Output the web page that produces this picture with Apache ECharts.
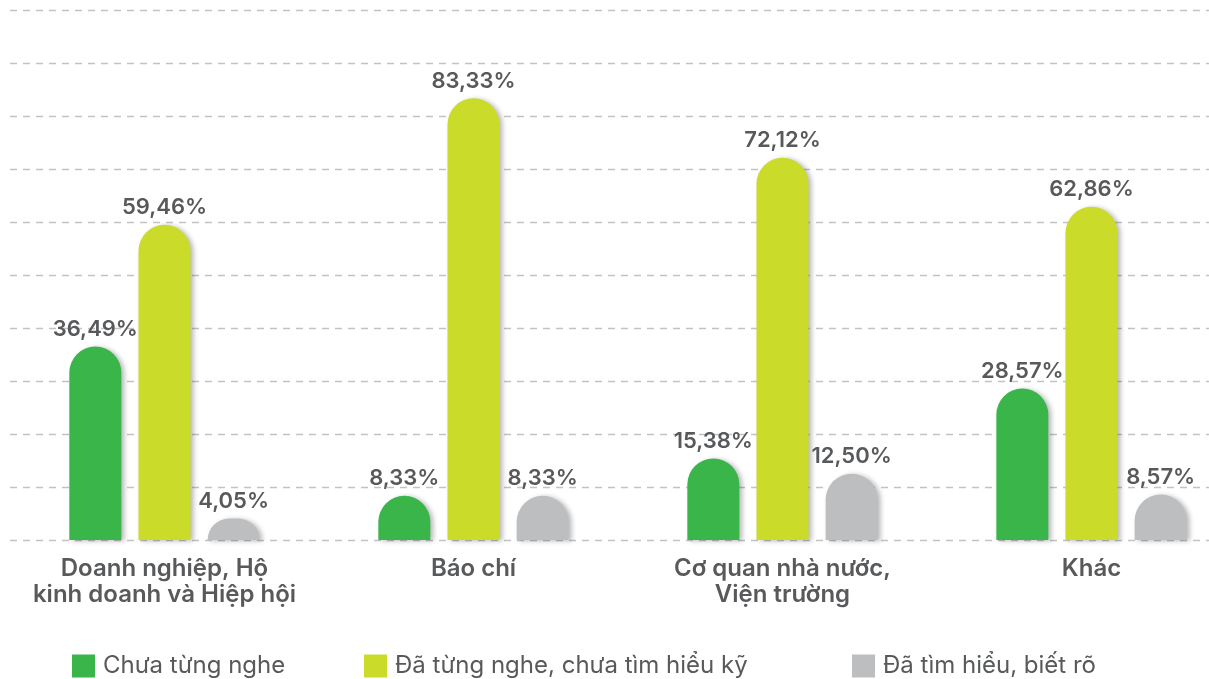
<!DOCTYPE html>
<html>
<head>
<meta charset="utf-8">
<script src="https://cdn.jsdelivr.net/npm/echarts@6/dist/echarts.min.js"></script>
<style>
  html, body { margin: 0; padding: 0; background: #fff; }
  #chart { width: 1209px; height: 679px; }
</style>
</head>
<body>
<div id="chart"></div>
<script>
const categories = [
  'Doanh nghiệp, Hộ\nkinh doanh và Hiệp hội',
  'Báo chí',
  'Cơ quan nhà nước,\nViện trường',
  'Khác'
]
const seriesNames = ['Chưa từng nghe', 'Đã từng nghe, chưa tìm hiểu kỹ', 'Đã tìm hiểu, biết rõ']
const chuaTungNghe = [36.49, 8.33, 15.38, 28.57]
const daTungNghe = [59.46, 83.33, 72.12, 62.86]
const daTimHieu = [4.05, 8.33, 12.50, 8.57]

const colors = ['#39b54a', '#cbdb2a', '#bcbec0']
const textColor = '#58595b'
const font = 'Inter, Roboto, "Noto Sans", sans-serif'

const chart = echarts.init(document.getElementById('chart'))

const makeSeries = (name, data, color) => ({
  name,
  type: 'bar',
  data,
  barWidth: 52,
  barGap: '33%',
  animation: false,
  itemStyle: {
    color,
    borderRadius: [26, 26, 0, 0],
    shadowColor: 'rgba(0,0,0,0.28)',
    shadowBlur: 5,
    shadowOffsetX: 3,
    shadowOffsetY: 1
  },
  label: {
    show: true,
    position: 'top',
    distance: 6,
    color: textColor,
    fontFamily: font,
    fontWeight: 600,
    fontSize: 22,
    formatter: p => p.value.toFixed(2).replace('.', ',') + '%'
  }
})

// one legend per item so each can sit where the reference puts it
const legendAt = (name, left) => ({
  data: [name],
  left,
  top: 654,
  padding: 0,
  itemWidth: 23,
  itemHeight: 23,
  icon: 'rect',
  textStyle: { color: textColor, fontFamily: font, fontSize: 24, padding: [0, 0, 0, 3] }
})

chart.setOption({
  backgroundColor: '#fff',
  legend: [
    legendAt(seriesNames[0], 72),
    legendAt(seriesNames[1], 364),
    legendAt(seriesNames[2], 852)
  ],
  grid: {
    left: 10,
    top: 10,
    width: 1236,
    height: 530,
    outerBoundsMode: 'none',
    containLabel: false
  },
  xAxis: {
    type: 'category',
    data: categories,
    axisLine: { show: false },
    axisTick: { show: false },
    axisLabel: {
      interval: 0,
      margin: 16,
      color: textColor,
      fontFamily: font,
      fontWeight: 600,
      fontSize: 24,
      lineHeight: 26
    }
  },
  yAxis: {
    type: 'value',
    min: 0,
    max: 100,
    interval: 10,
    axisLabel: { show: false },
    axisLine: { show: false },
    axisTick: { show: false },
    splitLine: {
      lineStyle: { color: '#c2c3c5', width: 1.3, type: [7, 6] }
    }
  },
  series: [
    makeSeries(seriesNames[0], chuaTungNghe, colors[0]),
    makeSeries(seriesNames[1], daTungNghe, colors[1]),
    makeSeries(seriesNames[2], daTimHieu, colors[2])
  ]
})
</script>
</body>
</html>
